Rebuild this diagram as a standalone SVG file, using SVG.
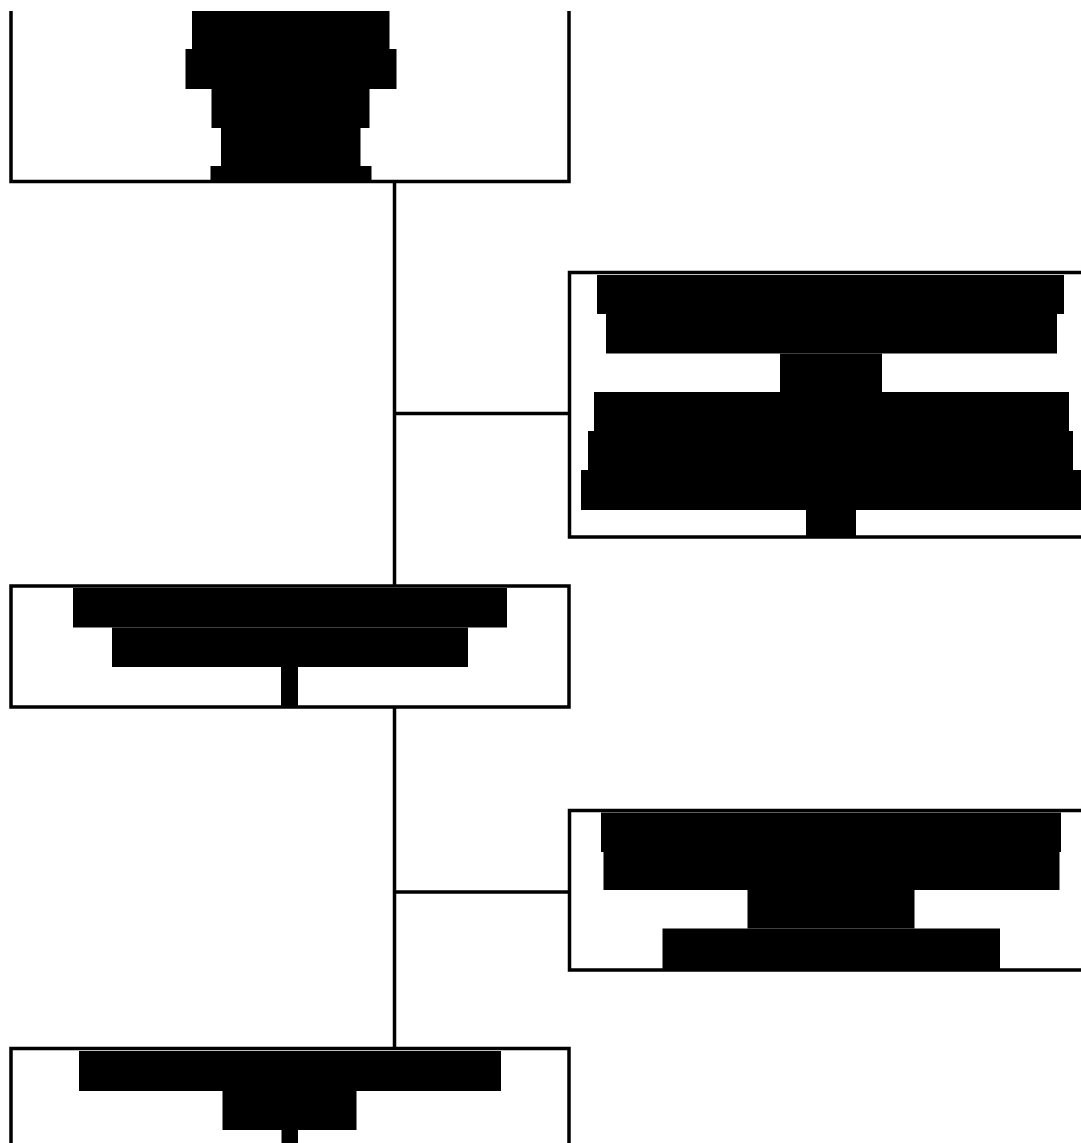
<svg xmlns="http://www.w3.org/2000/svg" width="1081" height="1143" viewBox="0 0 1081 1143">
  <style>
    .box { fill: #ffffff; stroke: #000000; stroke-width: 3.5; }
    .blk { fill: #000000; }
    .edge { fill: none; stroke: #000000; stroke-width: 3.5; }
  </style>
  <rect width="1081" height="1143" fill="#ffffff"/>
  <g id="connectors">
    <line class="edge" x1="394.5" y1="182" x2="394.5" y2="586"/>
    <line class="edge" x1="394.5" y1="707" x2="394.5" y2="1048"/>
    <line class="edge" x1="394.5" y1="413.5" x2="569" y2="413.5"/>
    <line class="edge" x1="394.5" y1="892" x2="569" y2="892"/>
  </g>
  <g id="node1">
    <path class="box" d="M11,11 V181.5 H569 V11"/>
    <rect class="blk" x="192" y="11" width="197.5" height="38"/>
    <rect class="blk" x="185.5" y="49" width="211" height="40"/>
    <rect class="blk" x="211.5" y="89" width="158" height="39"/>
    <rect class="blk" x="221" y="128" width="139.5" height="38"/>
    <rect class="blk" x="210.5" y="166" width="161" height="17"/>
  </g>
  <g id="node2">
    <rect class="box" x="569.5" y="272.5" width="600" height="264.5"/>
    <rect class="blk" x="597" y="275" width="467" height="39"/>
    <rect class="blk" x="606" y="314" width="451" height="39.5"/>
    <rect class="blk" x="780" y="353.5" width="102" height="38.5"/>
    <rect class="blk" x="594" y="392" width="475" height="39"/>
    <rect class="blk" x="588" y="431" width="485" height="39"/>
    <rect class="blk" x="581" y="470" width="500" height="40"/>
    <rect class="blk" x="806" y="510" width="50" height="28"/>
  </g>
  <g id="node3">
    <rect class="box" x="11" y="586" width="558" height="121"/>
    <rect class="blk" x="73" y="588" width="434" height="39.5"/>
    <rect class="blk" x="112" y="627.5" width="356" height="39.5"/>
    <rect class="blk" x="281" y="667" width="17" height="41"/>
  </g>
  <g id="node4">
    <rect class="box" x="569.5" y="810.5" width="600" height="159.5"/>
    <rect class="blk" x="601" y="812.5" width="460" height="39.5"/>
    <rect class="blk" x="603.5" y="852" width="456" height="38"/>
    <rect class="blk" x="747.5" y="890" width="167" height="38.5"/>
    <rect class="blk" x="662.5" y="928.5" width="337.5" height="42"/>
  </g>
  <g id="node5">
    <rect class="box" x="11" y="1048.5" width="558" height="200"/>
    <rect class="blk" x="79" y="1051" width="422" height="40"/>
    <rect class="blk" x="222.5" y="1091" width="134" height="39"/>
    <rect class="blk" x="281.5" y="1130" width="16.5" height="13"/>
  </g>
</svg>
